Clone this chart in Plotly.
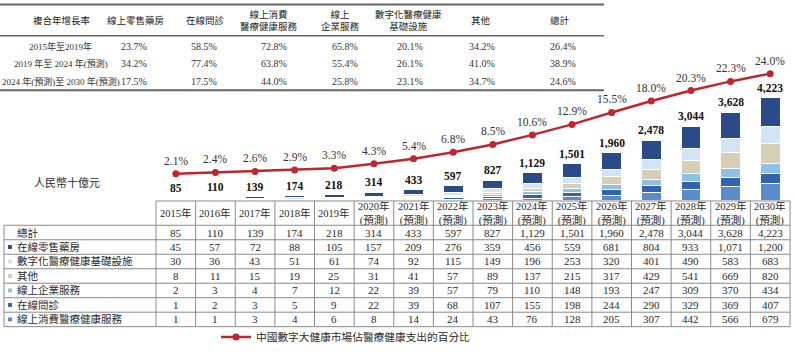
import plotly.graph_objects as go

# ---------------- data ----------------
years = [2015, 2016, 2017, 2018, 2019, 2020, 2021, 2022, 2023, 2024, 2025, 2026, 2027, 2028, 2029, 2030]
year_labels = ["2015年", "2016年", "2017年", "2018年", "2019年",
               "2020年<br>(預測)", "2021年<br>(預測)", "2022年<br>(預測)", "2023年<br>(預測)",
               "2024年<br>(預測)", "2025年<br>(預測)", "2026年<br>(預測)", "2027年<br>(預測)",
               "2028年<br>(預測)", "2029年<br>(預測)", "2030年<br>(預測)"]

totals = [85, 110, 139, 174, 218, 314, 433, 597, 827, 1129, 1501, 1960, 2478, 3044, 3628, 4223]
online_pharmacy = [45, 57, 72, 88, 105, 157, 209, 276, 359, 456, 559, 681, 804, 933, 1071, 1200]
digital_infra = [30, 36, 43, 51, 61, 74, 92, 115, 149, 196, 253, 320, 401, 490, 583, 683]
others = [8, 11, 15, 19, 25, 31, 41, 57, 89, 137, 215, 317, 429, 541, 669, 820]
enterprise = [2, 3, 4, 7, 12, 22, 39, 57, 79, 110, 148, 193, 247, 309, 370, 434]
online_consult = [1, 2, 3, 5, 9, 22, 39, 68, 107, 155, 198, 244, 290, 329, 369, 407]
consumer_health = [1, 1, 3, 4, 6, 8, 14, 24, 43, 76, 128, 205, 307, 442, 566, 679]
pct_of_spending = [2.1, 2.4, 2.6, 2.9, 3.3, 4.3, 5.4, 6.8, 8.5, 10.6, 12.9, 15.5, 18.0, 20.3, 22.3, 24.0]

series_names = ["在線零售藥房", "數字化醫療健康基礎設施", "其他", "線上企業服務", "在線問診", "線上消費醫療健康服務"]
series_values = [online_pharmacy, digital_infra, others, enterprise, online_consult, consumer_health]
series_colors = ["#2b4a88", "#d3e5f4", "#d7cfb5", "#8fc1e6", "#3462b0", "#5a8ccb"]

cagr_headers = ["複合年增長率", "線上零售藥房", "在線問診", "線上消費<br>醫療健康服務", "線上<br>企業服務",
                "數字化醫療健康<br>基礎設施", "其他", "總計"]
cagr_periods = ["2015年至2019年", "2019 年至 2024 年(預測)", "2024 年(預測)至 2030 年(預測)"]
cagr_values = [
    ["23.7%", "58.5%", "72.8%", "65.8%", "20.1%", "34.2%", "26.4%"],
    ["34.2%", "77.4%", "63.8%", "55.4%", "26.1%", "41.0%", "38.9%"],
    ["17.5%", "17.5%", "44.0%", "25.8%", "23.1%", "34.7%", "24.6%"],
]

unit_label = "人民幣十億元"
total_label = "總計"
line_name = "中國數字大健康市場佔醫療健康支出的百分比"

# ---------------- layout helpers ----------------
W, H = 795, 356
L, R_EDGE, T, B = 156, 790, 60, 204
FONT = "Liberation Serif, Noto Sans CJK TC, serif"
TXT = "#2a2a2a"
GRID = "#8a8a8a"


def xp(px):
    return (px - L) / (R_EDGE - L)


def yp(py):
    return (B - py) / (B - T)


fig = go.Figure()

# stacked bars, bottom to top
for name, vals, col in reversed(list(zip(series_names, series_values, series_colors))):
    fig.add_trace(go.Bar(x=years, y=vals, name=name, marker=dict(color=col, line=dict(color="white", width=1)),
                         width=0.5, showlegend=False, hoverinfo="skip"))

# percentage line
fig.add_trace(go.Scatter(x=years, y=pct_of_spending, yaxis="y2", mode="lines+markers", name=line_name,
                         line=dict(color="#c0262d", width=2.5), marker=dict(color="#c0262d", size=7),
                         showlegend=True, hoverinfo="skip"))

ann = []
shapes = []

# totals above bars
for x, v in zip(years, totals):
    ann.append(dict(x=x, y=v, xref="x", yref="y", text=f"{v:,}", showarrow=False, yshift=10,
                    xanchor="center", yanchor="middle",
                    font=dict(family=FONT, size=11.5, color="#111", weight="bold")))
# pct labels
for x, v in zip(years, pct_of_spending):
    ann.append(dict(x=x, y=v, xref="x", yref="y2", text=f"{v:.1f}%", showarrow=False, yshift=13,
                    xanchor="center", yanchor="middle", font=dict(family=FONT, size=11.5, color="#333")))

# unit label
ann.append(dict(x=xp(67), y=yp(186), xref="paper", yref="paper", text=unit_label, showarrow=False,
                xanchor="center", yanchor="middle", font=dict(family=FONT, size=11, color=TXT)))

# ---------------- top CAGR table ----------------
for y_, w_ in [(3, 2), (35, 1.5), (91, 2)]:
    shapes.append(dict(type="line", xref="paper", yref="paper", x0=xp(0), x1=xp(604), y0=yp(y_), y1=yp(y_),
                       line=dict(color="#666", width=w_)))
head_x = [62, 136, 205, 269, 340, 408, 481, 560]
val_x = [134, 204, 274, 345, 410, 482, 563]
for hx, h in zip(head_x, cagr_headers):
    ann.append(dict(x=xp(hx), y=yp(19), xref="paper", yref="paper", text=h, showarrow=False,
                    xanchor="center", yanchor="middle", font=dict(family=FONT, size=9.5, color="#222")))
row_y = [46, 64, 82]
for ry, per, vals in zip(row_y, cagr_periods, cagr_values):
    ann.append(dict(x=xp(61), y=yp(ry), xref="paper", yref="paper", text=per, showarrow=False,
                    xanchor="center", yanchor="middle", font=dict(family=FONT, size=9, color="#333")))
    for vx, v in zip(val_x, vals):
        ann.append(dict(x=xp(vx), y=yp(ry), xref="paper", yref="paper", text=v, showarrow=False,
                        xanchor="center", yanchor="middle", font=dict(family=FONT, size=10, color="#333")))

# ---------------- bottom data table ----------------
TOP_T, HEAD_B, ROW_H = 205, 230, 14.9
n_rows = 7
col_w = (R_EDGE - L) / len(years)
bottom_t = HEAD_B + n_rows * ROW_H
shapes.append(dict(type="line", xref="paper", yref="paper", x0=xp(L), x1=xp(R_EDGE), y0=yp(TOP_T), y1=yp(TOP_T),
                   line=dict(color=GRID, width=1)))
for k in range(n_rows + 1):
    yy = HEAD_B + k * ROW_H
    shapes.append(dict(type="line", xref="paper", yref="paper", x0=xp(4), x1=xp(R_EDGE), y0=yp(yy), y1=yp(yy),
                       line=dict(color=GRID, width=1)))
for k in range(len(years) + 1):
    xx = L + k * col_w
    shapes.append(dict(type="line", xref="paper", yref="paper", x0=xp(xx), x1=xp(xx), y0=yp(TOP_T), y1=yp(bottom_t),
                       line=dict(color=GRID, width=1)))
shapes.append(dict(type="line", xref="paper", yref="paper", x0=xp(4), x1=xp(4), y0=yp(HEAD_B), y1=yp(bottom_t),
                   line=dict(color=GRID, width=1)))

for x, lab in zip(years, year_labels):
    ann.append(dict(x=x, y=yp((TOP_T + HEAD_B) / 2), xref="x", yref="paper", text=lab, showarrow=False,
                    xanchor="center", yanchor="middle", font=dict(family=FONT, size=10.5, color=TXT)))

row_labels = [total_label] + series_names
row_vals = [totals] + series_values
row_cols = [None] + series_colors
for i, (lab, vals, col) in enumerate(zip(row_labels, row_vals, row_cols)):
    cy = HEAD_B + (i + 0.5) * ROW_H
    ann.append(dict(x=xp(15), y=yp(cy), xref="paper", yref="paper", text=lab, showarrow=False,
                    xanchor="left", yanchor="middle", font=dict(family=FONT, size=10.5, color=TXT)))
    if col:
        shapes.append(dict(type="rect", xref="paper", yref="paper", x0=xp(8), x1=xp(12), y0=yp(cy - 2), y1=yp(cy + 2),
                           fillcolor=col, line=dict(width=0)))
    for x, v in zip(years, vals):
        ann.append(dict(x=x, y=yp(cy), xref="x", yref="paper", text=f"{v:,}", showarrow=False,
                        xanchor="center", yanchor="middle", font=dict(family=FONT, size=11, color=TXT)))

fig.update_layout(
    width=W, height=H, barmode="stack", bargap=0.5,
    margin=dict(l=L, r=W - R_EDGE, t=T, b=H - B, pad=0),
    paper_bgcolor="white", plot_bgcolor="white",
    xaxis=dict(range=[years[0] - 0.5, years[-1] + 0.5], visible=False, fixedrange=True),
    yaxis=dict(range=[0, 5792], visible=False, fixedrange=True),
    yaxis2=dict(range=[-3.64, 26.98], overlaying="y", visible=False, fixedrange=True),
    showlegend=True,
    legend=dict(orientation="h", x=xp(216), xanchor="left", y=yp(345), yanchor="middle",
                font=dict(family=FONT, size=10.7, color=TXT), bgcolor="rgba(0,0,0,0)"),
    annotations=ann, shapes=shapes,
)

fig.write_html("out.html", config={"displayModeBar": False},
               post_script="document.body.style.margin='0';document.body.style.overflow='hidden';")
